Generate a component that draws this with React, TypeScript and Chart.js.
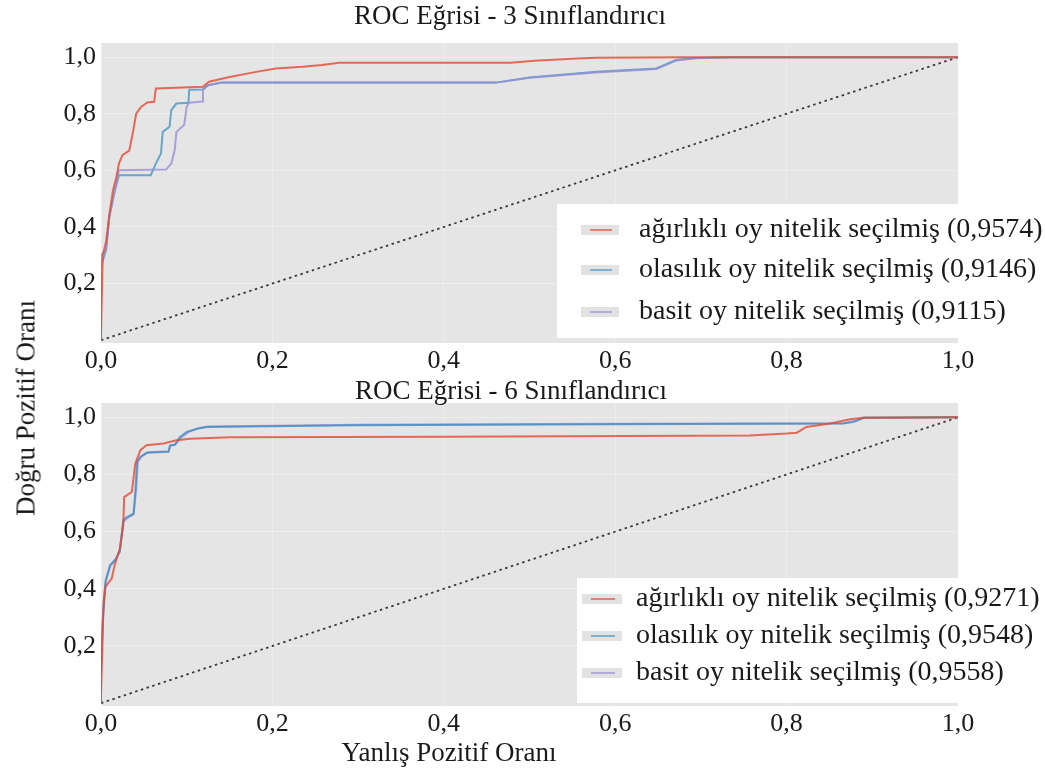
import React, { useEffect, useRef } from "react";
import { Chart, registerables } from "chart.js";

Chart.register(...registerables);

const FONT = "'Liberation Serif', 'Times New Roman', serif";

// ---------- text ----------
const titleTop = "ROC Eğrisi - 3 Sınıflandırıcı";
const titleBottom = "ROC Eğrisi - 6 Sınıflandırıcı";
const yAxisTitle = "Doğru Pozitif Oranı";
const xAxisTitle = "Yanlış Pozitif Oranı";
const legendTop = [
  "ağırlıklı oy nitelik seçilmiş (0,9574)",
  "olasılık oy nitelik seçilmiş (0,9146)",
  "basit oy nitelik seçilmiş (0,9115)",
];
const legendBottom = [
  "ağırlıklı oy nitelik seçilmiş (0,9271)",
  "olasılık oy nitelik seçilmiş (0,9548)",
  "basit oy nitelik seçilmiş (0,9558)",
];

// ---------- ticks ----------
const xTicks = [0, 0.2, 0.4, 0.6, 0.8, 1.0];
const yTicks = [0.2, 0.4, 0.6, 0.8, 1.0];

// ---------- diagonal ----------
const diagX = [0, 1];
const diagY = [0, 1];

// ---------- top panel (3 classifiers) ----------
const top3WeightedX = [0, 0.0, 0.002, 0.006, 0.010, 0.014, 0.018, 0.021, 0.025, 0.033, 0.037, 0.041, 0.047, 0.054, 0.062, 0.064, 0.119, 0.126, 0.15, 0.181, 0.204, 0.235, 0.258, 0.278, 0.478, 0.506, 0.555, 0.578, 0.68, 1.0];
const top3WeightedY = [0, 0.02, 0.30, 0.35, 0.45, 0.53, 0.577, 0.625, 0.654, 0.67, 0.73, 0.80, 0.825, 0.84, 0.842, 0.889, 0.895, 0.913, 0.93, 0.948, 0.96, 0.966, 0.972, 0.98, 0.98, 0.987, 0.995, 0.998, 1.0, 1.0];

const top3ProbX = [0, 0.0, 0.006, 0.0097, 0.0155, 0.021, 0.058, 0.064, 0.07, 0.072, 0.080, 0.082, 0.088, 0.102, 0.103, 0.119, 0.125, 0.141, 0.461, 0.5, 0.578, 0.648, 0.671, 0.694, 0.733, 1.0];
const top3ProbY = [0, 0.26, 0.32, 0.436, 0.52, 0.583, 0.583, 0.624, 0.66, 0.736, 0.754, 0.813, 0.836, 0.839, 0.885, 0.886, 0.901, 0.91, 0.91, 0.928, 0.948, 0.96, 0.99, 0.997, 1.0, 1.0];

const top3SimpleX = [0, 0.0, 0.006, 0.0097, 0.0155, 0.021, 0.076, 0.082, 0.086, 0.088, 0.097, 0.100, 0.103, 0.118, 0.119, 0.125, 0.141, 0.461, 0.5, 0.578, 0.648, 0.671, 0.694, 0.74, 1.0];
const top3SimpleY = [0, 0.30, 0.32, 0.436, 0.52, 0.60, 0.603, 0.624, 0.671, 0.736, 0.76, 0.825, 0.839, 0.843, 0.886, 0.901, 0.91, 0.91, 0.927, 0.946, 0.958, 0.988, 0.996, 1.0, 1.0];

// ---------- bottom panel (6 classifiers) ----------
const bot6WeightedX = [0, 0.0, 0.003, 0.005, 0.0125, 0.016, 0.022, 0.026, 0.027, 0.036, 0.04, 0.046, 0.053, 0.073, 0.088, 0.104, 0.15, 0.4, 0.757, 0.80, 0.812, 0.823, 0.851, 0.874, 0.889, 1.0];
const bot6WeightedY = [0, 0.03, 0.354, 0.407, 0.436, 0.483, 0.541, 0.622, 0.721, 0.739, 0.838, 0.885, 0.902, 0.908, 0.92, 0.925, 0.93, 0.932, 0.936, 0.943, 0.946, 0.966, 0.978, 0.993, 0.998, 1.0];

const bot6ProbX = [0, 0.0, 0.002, 0.005, 0.0105, 0.016, 0.022, 0.026, 0.030, 0.038, 0.04, 0.042, 0.046, 0.053, 0.0785, 0.0805, 0.086, 0.092, 0.10, 0.112, 0.123, 0.3, 0.6, 0.866, 0.878, 0.89, 1.0];
const bot6ProbY = [0, 0.1, 0.284, 0.424, 0.483, 0.5, 0.529, 0.64, 0.651, 0.663, 0.739, 0.844, 0.861, 0.876, 0.879, 0.902, 0.904, 0.931, 0.949, 0.96, 0.966, 0.972, 0.976, 0.978, 0.983, 0.998, 1.0];

const bot6SimpleX = [0, 0.0, 0.002, 0.006, 0.011, 0.017, 0.022, 0.026, 0.031, 0.038, 0.041, 0.043, 0.047, 0.055, 0.079, 0.081, 0.087, 0.094, 0.102, 0.114, 0.125, 0.3, 0.6, 0.866, 0.882, 0.89, 1.0];
const bot6SimpleY = [0, 0.12, 0.29, 0.43, 0.48, 0.5, 0.535, 0.635, 0.648, 0.66, 0.745, 0.845, 0.862, 0.878, 0.881, 0.9, 0.905, 0.93, 0.948, 0.962, 0.968, 0.974, 0.977, 0.979, 0.99, 0.998, 1.0];

// ---------- styles ----------
const RED = "rgba(226,74,51,0.8)";
const BLUE = "rgba(52,138,189,0.7)";
const PURPLE = "rgba(152,142,213,0.8)";
const DIAG = "#3a3a3a";
const PLOT_BG = "#e5e5e5";

const pts = (xs: number[], ys: number[]) => xs.map((x, i) => ({ x, y: ys[i] }));
const fmt = (v: number) => v.toFixed(1).replace(".", ",");

const decorPlugin = {
  id: "decor",
  beforeDraw(chart: any) {
    const { ctx, chartArea } = chart;
    ctx.save();
    ctx.fillStyle = PLOT_BG;
    ctx.fillRect(chartArea.left, chartArea.top, chartArea.right - chartArea.left, chartArea.bottom - chartArea.top);
    ctx.restore();
  },
  afterDraw(chart: any, _args: any, opts: any) {
    const { ctx } = chart;
    ctx.save();
    // title
    ctx.font = `27px ${FONT}`;
    ctx.fillStyle = "#1a1a1a";
    ctx.textAlign = "center";
    ctx.textBaseline = "middle";
    ctx.fillText(opts.title, opts.titleX, opts.titleY);
    // legend
    const lg = opts.legend;
    ctx.fillStyle = "#ffffff";
    ctx.fillRect(lg.x, lg.y, lg.w, lg.h);
    const items = chart.data.datasets
      .filter((d: any) => d.inLegend)
      .sort((a: any, b: any) => a.legendIndex - b.legendIndex);
    items.forEach((d: any, i: number) => {
      const cy = lg.rows[i];
      ctx.fillStyle = "#e2e2e2";
      ctx.fillRect(lg.handleX, cy - 5, lg.handleW, 10);
      ctx.strokeStyle = d.borderColor;
      ctx.lineWidth = 1.6;
      ctx.beginPath();
      ctx.moveTo(lg.handleX + 9, cy);
      ctx.lineTo(lg.handleX + lg.handleW - 7, cy);
      ctx.stroke();
      ctx.fillStyle = "#1a1a1a";
      ctx.font = `28px ${FONT}`;
      ctx.textAlign = "left";
      ctx.textBaseline = "middle";
      ctx.fillText(d.label, lg.textX, cy);
    });
    ctx.restore();
  },
};

function makeConfig(
  series: { x: number[]; y: number[]; color: string; label: string; order: number }[],
  opts: any
) {
  const datasets: any[] = series.map((s, i) => ({
    label: s.label,
    inLegend: true,
    legendIndex: i,
    order: s.order,
    data: pts(s.x, s.y),
    borderColor: s.color,
    borderWidth: 2,
    showLine: true,
    pointRadius: 0,
    tension: 0,
    fill: false,
  }));
  datasets.push({
    label: "diag",
    inLegend: false,
    order: 10,
    data: pts(diagX, diagY),
    borderColor: DIAG,
    borderWidth: 1.8,
    borderDash: [2.5, 3.5],
    showLine: true,
    pointRadius: 0,
    fill: false,
  });
  return {
    type: "scatter" as const,
    data: { datasets },
    plugins: [decorPlugin],
    options: {
      responsive: false,
      animation: false as const,
      devicePixelRatio: 1,
      layout: { padding: { left: 0, right: 87, top: opts.padTop, bottom: 0 } },
      scales: {
        x: {
          type: "linear" as const,
          min: 0,
          max: 1,
          afterBuildTicks: (s: any) => {
            s.ticks = xTicks.map((v) => ({ value: v }));
          },
          afterFit: (s: any) => {
            s.height = opts.xHeight;
          },
          ticks: {
            callback: (v: any) => fmt(Number(v)),
            font: { family: FONT, size: 26 },
            color: "#1a1a1a",
            padding: 3,
            maxRotation: 0,
            autoSkip: false,
          },
          grid: { color: "rgba(255,255,255,0.3)", lineWidth: 1, drawTicks: false },
          border: { display: false },
        },
        y: {
          type: "linear" as const,
          min: -0.01,
          max: 1.05,
          afterBuildTicks: (s: any) => {
            s.ticks = yTicks.map((v) => ({ value: v }));
          },
          afterFit: (s: any) => {
            s.width = 101;
          },
          ticks: {
            callback: (v: any) => fmt(Number(v)),
            font: { family: FONT, size: 26 },
            color: "#1a1a1a",
            padding: 5,
            autoSkip: false,
          },
          grid: { color: "rgba(255,255,255,0.3)", lineWidth: 1, drawTicks: false },
          border: { display: false },
        },
      },
      plugins: {
        legend: { display: false },
        tooltip: { enabled: false },
        decor: opts.decor,
      },
    },
  };
}

function Panel(props: { top: number; height: number; config: any }) {
  const ref = useRef<HTMLCanvasElement>(null);
  useEffect(() => {
    const chart = new Chart(ref.current as HTMLCanvasElement, props.config);
    return () => chart.destroy();
  }, []);
  return (
    <canvas
      ref={ref}
      width={1045}
      height={props.height}
      style={{ position: "absolute", left: 0, top: props.top, width: 1045, height: props.height }}
    />
  );
}

export default function App() {
  const topCfg = makeConfig(
    [
      { x: top3WeightedX, y: top3WeightedY, color: RED, label: legendTop[0], order: 0 },
      { x: top3ProbX, y: top3ProbY, color: BLUE, label: legendTop[1], order: 2 },
      { x: top3SimpleX, y: top3SimpleY, color: PURPLE, label: legendTop[2], order: 1 },
    ],
    {
      padTop: 43,
      xHeight: 37,
      decor: {
        title: titleTop,
        titleX: 510,
        titleY: 17,
        legend: { x: 557, y: 204, w: 486, h: 134, rows: [230, 270, 312], handleX: 581, handleW: 38, textX: 639 },
      },
    }
  );
  const botCfg = makeConfig(
    [
      { x: bot6WeightedX, y: bot6WeightedY, color: RED, label: legendBottom[0], order: 0 },
      { x: bot6ProbX, y: bot6ProbY, color: BLUE, label: legendBottom[1], order: 1 },
      { x: bot6SimpleX, y: bot6SimpleY, color: PURPLE, label: legendBottom[2], order: 2 },
    ],
    {
      padTop: 23,
      xHeight: 69,
      decor: {
        title: titleBottom,
        titleX: 511,
        titleY: 12,
        legend: { x: 577, y: 198, w: 466, h: 125, rows: [219, 256, 293], handleX: 582, handleW: 40, textX: 636 },
      },
    }
  );
  return (
    <div style={{ position: "absolute", left: 0, top: 0, width: 1045, height: 775, background: "#fff", overflow: "hidden" }}>
      <Panel top={0} height={380} config={topCfg} />
      <Panel top={380} height={395} config={botCfg} />
      <div
        style={{
          position: "absolute",
          left: 26,
          top: 408,
          transform: "translate(-50%, -50%) rotate(-90deg)",
          whiteSpace: "nowrap",
          font: `27px ${FONT}`,
          color: "#1a1a1a",
        }}
      >
        {yAxisTitle}
      </div>
      <div
        style={{
          position: "absolute",
          left: 449,
          top: 752,
          transform: "translate(-50%, -50%)",
          whiteSpace: "nowrap",
          font: `27px ${FONT}`,
          color: "#1a1a1a",
        }}
      >
        {xAxisTitle}
      </div>
    </div>
  );
}
